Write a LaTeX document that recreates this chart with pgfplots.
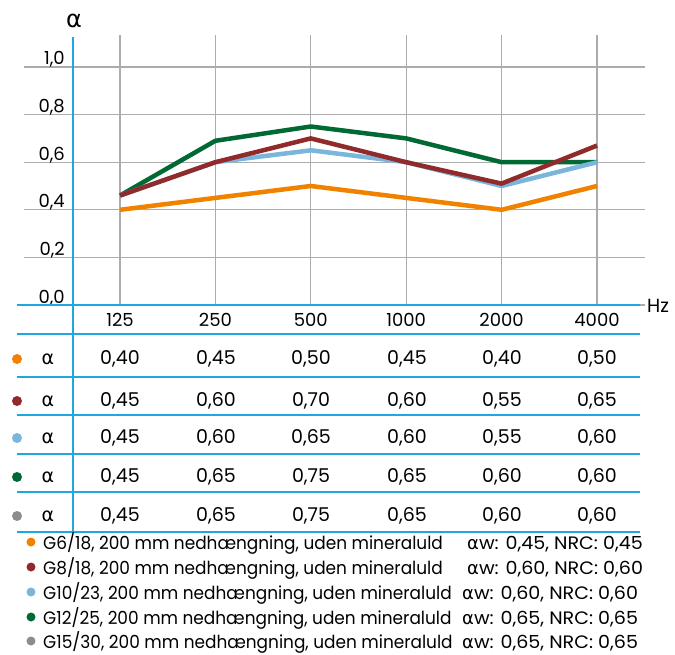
\documentclass[border=0pt]{standalone}
\usepackage{fontspec}
\setmainfont{Poppins}
\newfontfamily\gr{DejaVu Sans}
\newfontfamily\leg[FakeStretch=0.94]{Poppins}
\newfontfamily\legw[FakeStretch=1.06]{Poppins}
\newfontfamily\leggr[FakeStretch=1.0]{DejaVu Sans}
\usepackage{pgfplots}
\pgfplotsset{compat=1.18}

\definecolor{axblue}{RGB}{30,168,226}
\definecolor{gridgray}{RGB}{172,172,172}
\definecolor{cOrange}{RGB}{240,130,0}
\definecolor{cRed}{RGB}{145,42,42}
\definecolor{cLblue}{RGB}{122,182,220}
\definecolor{cGreen}{RGB}{0,105,52}
\definecolor{cGray}{RGB}{140,140,140}

\newcommand{\fs}[1]{\fontsize{#1}{#1}\selectfont}
% one row of the table: baseline, colour, six values
\newcommand{\trow}[8]{%
  \fill[#2] (17,#1-5) circle (5pt);
  \node[anchor=base, inner sep=0pt, font=\gr\fs{19}] at (48,#1) {α};
  \node[anchor=base, inner sep=0pt, font=\fs{19}] at (120,#1) {#3};
  \node[anchor=base, inner sep=0pt, font=\fs{19}] at (216,#1) {#4};
  \node[anchor=base, inner sep=0pt, font=\fs{19}] at (311,#1) {#5};
  \node[anchor=base, inner sep=0pt, font=\fs{19}] at (407,#1) {#6};
  \node[anchor=base, inner sep=0pt, font=\fs{19}] at (502,#1) {#7};
  \node[anchor=base, inner sep=0pt, font=\fs{19}] at (597,#1) {#8};
}
% one legend entry: baseline, colour, left text, x of right text, right text
\newcommand{\lrow}[5]{%
  \fill[#2] (31,#1-7) circle (4.5pt);
  \node[font=\leg\fs{18}] at (43,#1) {#3};
  \node[font=\legw\fs{18}] at (#4,#1) {{\leggr α}w: #5};
}

\begin{document}
\begin{tikzpicture}
\useasboundingbox (-24pt,-349pt) rectangle (651pt,305pt);
\begin{axis}[
  x=95.4pt, y=238pt,
  xmin=-1.0063, xmax=5.5031, ymin=0, ymax=1.1345,
  axis line style={draw=none},
  clip=false,
  xtick={0,1,2,3,4,5},
  xticklabels={125,250,500,1000,2000,4000},
  ytick={0,0.2,0.4,0.6,0.8,1},
  major tick length=0pt,
  grid=major,
  major grid style={color=gridgray, line width=1.2pt},
  xticklabel style={anchor=center, inner sep=0pt, yshift=-15pt, font=\fs{18}},
  yticklabel style={anchor=base east, inner sep=0pt, xshift=41pt, yshift=2pt, font=\fs{18}},
  /pgf/number format/.cd, fixed, fixed zerofill, precision=1, use comma, assume math mode=true,
]
\addplot[color=cOrange, line width=4.5pt, line join=round] coordinates {(0,0.40) (1,0.45) (2,0.50) (3,0.45) (4,0.40) (5,0.50)};
\addplot[color=cGreen, line width=4.5pt, line join=round] coordinates {(0,0.46) (1,0.69) (2,0.75) (3,0.70) (4,0.60) (5,0.60)};
\addplot[color=cLblue, line width=4.5pt, line join=round] coordinates {(0,0.46) (1,0.60) (2,0.65) (3,0.60) (4,0.50) (5,0.60)};
\addplot[color=cRed, line width=4.5pt, line join=round] coordinates {(0,0.46) (1,0.60) (2,0.70) (3,0.60) (4,0.51) (5,0.67)};
\end{axis}

\begin{scope}[x=1pt, y=-1pt, shift={(-24pt,305pt)}]
  \draw[axblue, line width=2pt] (73,37) -- (73,532);
  \draw[axblue, line width=2pt] (17,305) -- (640,305);
  \foreach \yy in {334,377,415,454,492,532}
    \draw[axblue, line width=1.3pt] (17,\yy) -- (640,\yy);
  \node[anchor=center, inner sep=0pt, font=\gr\fs{24}] at (74,21) {α};
  \node[anchor=base west, inner sep=0pt, font=\fs{19}] at (647,312) {Hz};

  \trow{364}{cOrange}{0,40}{0,45}{0,50}{0,45}{0,40}{0,50}
  \trow{406}{cRed}{0,45}{0,60}{0,70}{0,60}{0,55}{0,65}
  \trow{443}{cLblue}{0,45}{0,60}{0,65}{0,60}{0,55}{0,60}
  \trow{482}{cGreen}{0,45}{0,65}{0,75}{0,65}{0,60}{0,60}
  \trow{521}{cGray}{0,45}{0,65}{0,75}{0,65}{0,60}{0,60}

  \begin{scope}[every node/.style={anchor=base west, inner sep=0pt}]
    \lrow{549}{cOrange}{G6/18, 200 mm nedhængning, uden mineraluld}{467}{0,45, NRC: 0,45}
    \lrow{574}{cRed}{G8/18, 200 mm nedhængning, uden mineraluld}{467}{0,60, NRC: 0,60}
    \lrow{599}{cLblue}{G10/23, 200 mm nedhængning, uden mineraluld}{462}{0,60, NRC: 0,60}
    \lrow{624}{cGreen}{G12/25, 200 mm nedhængning, uden mineraluld}{462}{0,65, NRC: 0,65}
    \lrow{648}{cGray}{G15/30, 200 mm nedhængning, uden mineraluld}{462}{0,65, NRC: 0,65}
  \end{scope}
\end{scope}
\end{tikzpicture}
\end{document}
